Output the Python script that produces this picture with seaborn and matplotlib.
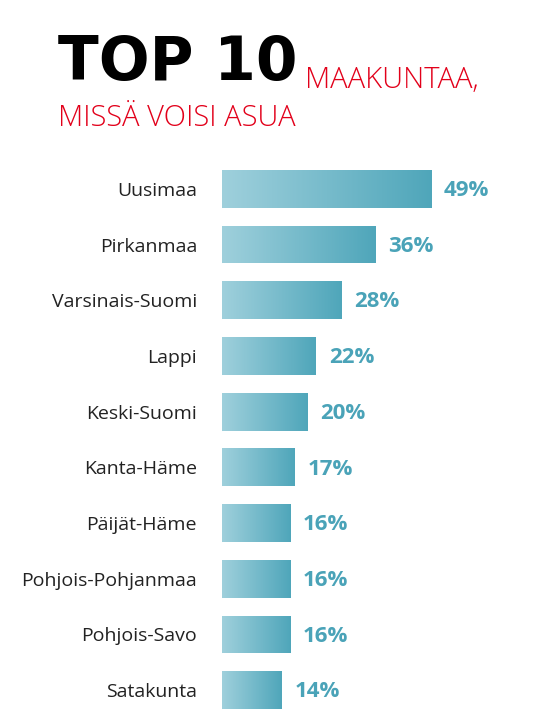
import matplotlib
matplotlib.use("Agg")
import matplotlib.pyplot as plt
import seaborn as sns
import numpy as np
import pandas as pd
from matplotlib.colors import LinearSegmentedColormap

regions = ["Uusimaa", "Pirkanmaa", "Varsinais-Suomi", "Lappi", "Keski-Suomi",
           "Kanta-Häme", "Päijät-Häme", "Pohjois-Pohjanmaa", "Pohjois-Savo", "Satakunta"]
values = [49, 36, 28, 22, 20, 17, 16, 16, 16, 14]
df = pd.DataFrame({"region": regions, "value": values})

sns.set_style("white")
plt.rcParams['font.family'] = ['Open Sans', 'DejaVu Sans']

fig = plt.figure(figsize=(5.58, 7.25), dpi=100)
ax = fig.add_axes([222/558, 7/725, 1 - 222/558, 557/725])
sns.barplot(data=df, x="value", y="region", ax=ax, color="#7fc0cf", width=0.68,
            orient="h", saturation=1)

grad = np.linspace(0, 1, 256).reshape(1, -1)
cmap = LinearSegmentedColormap.from_list("g", ["#9fd0dc", "#4fa6ba"])
for p in ax.patches:
    x0, y0, w, h = p.get_x(), p.get_y(), p.get_width(), p.get_height()
    im = ax.imshow(grad, extent=[x0, x0 + w, y0 + h, y0], aspect="auto", cmap=cmap, zorder=3)
    im.set_clip_path(p)
ax.set_ylim(9.5, -0.5)
ax.set_xlim(0, (558 - 222) / 4.27)

for i, v in enumerate(values):
    ax.text(v + 3.0, i + 0.03, f"{v}%", va="center", ha="left", fontsize=16,
            fontweight="bold", color="#4aa3b8")

ax.set_xlabel(""); ax.set_ylabel("")
ax.set_xticks([])
ax.tick_params(axis="y", length=0, labelsize=14, pad=18, labelcolor="#222222")
sns.despine(ax=ax, left=True, bottom=True)

fig.text(58/558, 1 - 80/725, "TOP 10", fontsize=43, fontweight="heavy", color="black",
         family=["DejaVu Sans"])
fig.text(305/558, 1 - 88/725, "MAAKUNTAA,", fontsize=21, fontweight="light", color="#e2001a")
fig.text(58/558, 1 - 126/725, "MISSÄ VOISI ASUA", fontsize=21, fontweight="light", color="#e2001a")

fig.savefig("out.png", dpi=100)
